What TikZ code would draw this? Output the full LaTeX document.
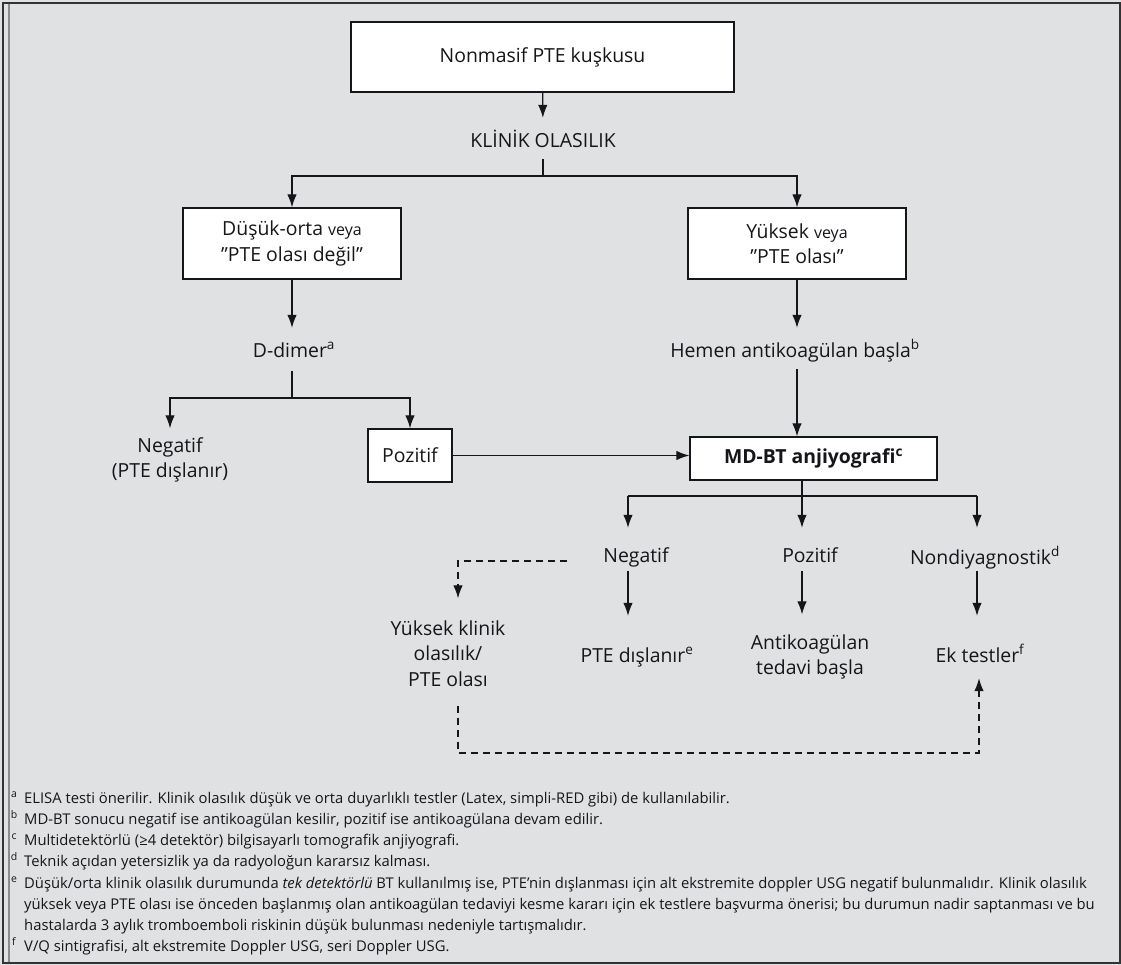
\documentclass[tikz,border=0pt]{standalone}
\usepackage{fontspec}
\setmainfont{Open Sans}
\usetikzlibrary{arrows.meta}

\definecolor{pagebg}{RGB}{224,225,227}
\definecolor{ink}{RGB}{22,22,26}

\begin{document}
\begin{tikzpicture}[
  x=1pt, y=1pt, font=\fontsize{19.4}{25.5}\selectfont, text=ink,
  box/.style ={draw=ink,fill=white,line width=1.3pt,align=center,inner sep=0pt},
  lbl/.style ={align=center,inner sep=0pt},
  one/.style ={lbl,text height=14pt,text depth=5pt},
  ln/.style  ={draw=ink,line width=1.2pt},
  arr/.style ={ln,-{Latex[length=13pt,width=9.5pt]}},
  dsh/.style ={arr,dash pattern=on 7pt off 5pt},
  fn/.style  ={anchor=base west,inner sep=0pt,font=\fontsize{14.8}{18}\selectfont},
  fnm/.style ={anchor=base,inner sep=0pt,font=\fontsize{10.5}{12}\selectfont},
]
\useasboundingbox (0,0) rectangle (1121,-965);

% ----------------------------------------------------------- frame
\fill[pagebg] (0,0) rectangle (1121,-965);
\draw[line width=2pt,black!80] (3,-3) rectangle (1119.5,-963);
\draw[line width=1.2pt,black!45] (9,-4.5) -- (9,-962);

% ----------------------------------------------------------- top
\node[box,minimum width=383,minimum height=70] (start) at (542.5,-57)
  {Nonmasif PTE kuşkusu};
\node[one] (klinik) at (543,-143) {KLİNİK OLASILIK};
\coordinate (k1) at (543,-176);
\draw[arr,shorten >=15.5pt] (start) -- (klinik);
\draw[ln,shorten <=6.5pt] (klinik) -- (k1);

\node[box,minimum width=218,minimum height=71] (low) at (292,-243.5)
  {Düşük-orta {\fontsize{16}{25.5}\selectfont veya}\\”PTE olası değil”};
\node[box,minimum width=218,minimum height=71] (high) at (797,-243.5)
  {Yüksek {\fontsize{16}{25.5}\selectfont veya}\\”PTE olası”};
\draw[arr] (k1) -| (low.north);
\draw[arr] (k1) -| (high.north);

% ----------------------------------------------------------- left branch
\node[one] (ddimer) at (294,-353) {D-dimer\textsuperscript{a}};
\coordinate (d1) at (292,-398);
\draw[arr,shorten >=15.5pt] (low) -- (low |- ddimer.north);
\draw[ln,shorten <=8.5pt] (low |- ddimer.south) -- (d1);

\node[lbl] (negA) at (170,-460) {Negatif\\(PTE dışlanır)};
\node[box,minimum width=84,minimum height=53] (pozA) at (410,-455.5) {Pozitif};
\draw[arr,shorten >=9pt] (d1) -| (negA.north);
\draw[arr] (d1) -| (pozA.north);

% ----------------------------------------------------------- right branch
\node[one] (hemen) at (795,-353) {Hemen antikoagülan başla\textsuperscript{b}};
\node[box,minimum width=247,minimum height=43,font=\fontsize{19.4}{25.5}\bfseries] (mdbt)
  at (813.5,-458.5) {MD-BT anjiyografi\textsuperscript{c}};
\draw[arr,shorten >=15.5pt] (high) -- (high |- hemen.north);
\draw[arr,shorten <=6.5pt] (high |- hemen.south) -- (high |- mdbt.north);
\draw[arr] (pozA.east) -- (pozA.east -| mdbt.west);

% ----------------------------------------------------------- MD-BT results
\coordinate (bn) at (628,-496);
\coordinate (bp) at (802,-496);
\coordinate (bd) at (977,-496);
\draw[ln] (mdbt.south -| bp) -- (bp);
\draw[ln] (bn) -- (bd);

\node[one] (negB) at (636,-558) {Negatif};
\node[one] (pozB) at (810,-558) {Pozitif};
\node[one] (nond) at (985,-560) {Nondiyagnostik\textsuperscript{d}};
\draw[arr,shorten >=20.5pt] (bn) -- (bn |- negB.north);
\draw[arr,shorten >=20.5pt] (bp) -- (bp |- pozB.north);
\draw[arr,shorten >=22.5pt] (bd) -- (bd |- nond.north);

\node[lbl] (yk) at (448,-653.5) {Yüksek klinik\\olasılık/\\PTE olası};
\node[one] (pted) at (637,-658) {PTE dışlanır\textsuperscript{e}};
\node[lbl] (antik) at (810,-657) {Antikoagülan\\tedavi başla};
\node[one] (ek) at (980,-658) {Ek testler\textsuperscript{f}};
\draw[arr,shorten <=3.5pt,shorten >=32.5pt] (bn |- negB.south) -- (bn |- pted.north);
\draw[arr,shorten <=3.5pt,shorten >=20pt] (bp |- pozB.south) -- (bp |- antik.north);
\draw[arr,shorten <=1.5pt,shorten >=32.5pt] (bd |- nond.south) -- (bd |- ek.north);

% dashed loop: high probability after a negative scan goes on to further tests
\coordinate (q1) at (458,-561);
\coordinate (q2) at (458,-753);
\coordinate (q3) at (979,-753);
\draw[dsh,shorten <=36pt,shorten >=22pt] (negB.west |- q1) -- (q1) -- (q1 |- yk.north);
\draw[dsh,shorten <=19pt,shorten >=10.5pt] (q2 |- yk.south) -- (q2) -- (q3) -- (q3 |- ek.south);

% ----------------------------------------------------------- footnotes
\node[fnm] at (14,-797) {a};
\node[fn] (fa) at (24,-803) {ELISA testi önerilir. Klinik olasılık düşük ve orta duyarlıklı testler (Latex, simpli-RED gibi) de kullanılabilir.};
\node[fnm] at (14,-818) {b};
\node[fn] (fb) at (24,-824) {MD-BT sonucu negatif ise antikoagülan kesilir, pozitif ise antikoagülana devam edilir.};
\node[fnm] at (14,-839) {c};
\node[fn] (fc) at (24,-845) {Multidetektörlü (≥4 detektör) bilgisayarlı tomografik anjiyografi.};
\node[fnm] at (14,-860) {d};
\node[fn] (fd) at (24,-866) {Teknik açıdan yetersizlik ya da radyoloğun kararsız kalması.};
\node[fnm] at (14,-882) {e};
\node[fn] (fe) at (24,-888) {Düşük/orta klinik olasılık durumunda \textit{tek detektörlü} BT kullanılmış ise, PTE’nin dışlanması için alt ekstremite doppler USG negatif bulunmalıdır. Klinik olasılık};
\node[fn] (fe2) at (24,-909) {yüksek veya PTE olası ise önceden başlanmış olan antikoagülan tedaviyi kesme kararı için ek testlere başvurma önerisi; bu durumun nadir saptanması ve bu};
\node[fn] (fe3) at (24,-930) {hastalarda 3 aylık tromboemboli riskinin düşük bulunması nedeniyle tartışmalıdır.};
\node[fnm] at (14,-945) {f};
\node[fn] (ff) at (24,-951) {V/Q sintigrafisi, alt ekstremite Doppler USG, seri Doppler USG.};

\end{tikzpicture}
\end{document}
